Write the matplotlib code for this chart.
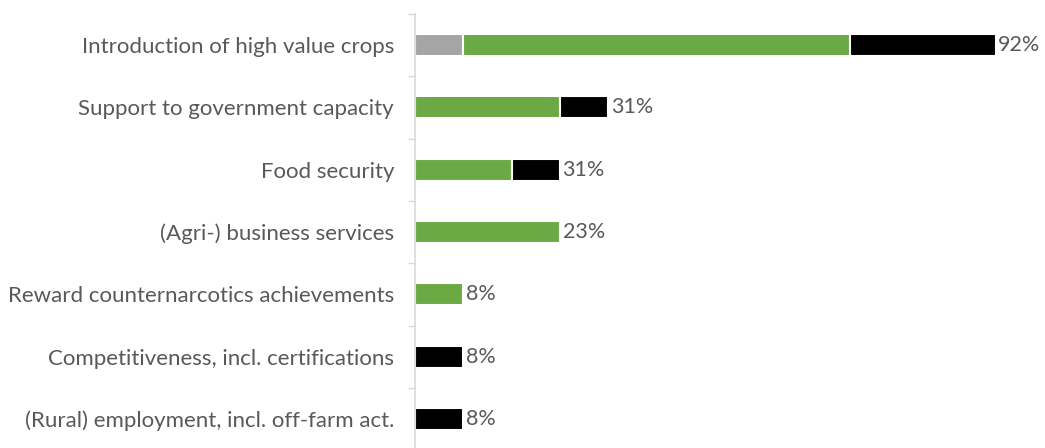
import numpy as np
import matplotlib

matplotlib.use("Agg")
import matplotlib.pyplot as plt

# categories top to bottom
categories = [
    "Introduction of high value crops",
    "Support to government capacity",
    "Food security",
    "(Agri-) business services",
    "Reward counternarcotics achievements",
    "Competitiveness, incl. certifications",
    "(Rural) employment, incl. off-farm act.",
]
# project counts out of 13
n_projects = 13
gray_counts = [1, 0, 0, 0, 0, 0, 0]
green_counts = [8, 3, 2, 3, 1, 0, 0]
black_counts = [3, 1, 1, 0, 0, 1, 1]
# labels as printed in the source chart
value_labels = ["92%", "31%", "31%", "23%", "8%", "8%", "8%"]

gray = np.array(gray_counts) / n_projects
green = np.array(green_counts) / n_projects
black = np.array(black_counts) / n_projects
total = gray + green + black

text_col = "#595959"
plt.rcParams["font.family"] = ["Lato", "DejaVu Sans"]

fig = plt.figure(figsize=(10.45, 4.48), dpi=100)
ax = fig.add_axes([0.397, -0.005, 0.602, 0.974])

y = np.arange(len(categories))
h = 0.35
kw = dict(height=h, edgecolor="white", linewidth=1.5)
ax.barh(y, gray, color="#a5a5a5", **kw)
ax.barh(y, green, left=gray, color="#6aa943", **kw)
ax.barh(y, black, left=gray + green, color="#000000", **kw)

for yi, t, lab in zip(y, total, value_labels):
    ax.text(t + 0.004, yi, lab, va="center", ha="left",
            fontsize=15.5, color=text_col)

ax.set_xlim(0, 1.0)
ax.set_ylim(len(categories) - 0.5, -0.5)
ax.set_yticks(y)
ax.set_yticklabels(categories, fontsize=16, color=text_col)
ax.set_yticks(np.arange(-0.5, len(categories), 1), minor=True)
ax.tick_params(axis="y", which="major", length=0, pad=15)
ax.tick_params(axis="y", which="minor", length=5, color="#d9d9d9", width=1)
ax.set_xticks([])
for s in ["top", "right", "bottom"]:
    ax.spines[s].set_visible(False)
ax.spines["left"].set_color("#d9d9d9")
ax.spines["left"].set_linewidth(1.2)

fig.savefig("out.png", dpi=100)
